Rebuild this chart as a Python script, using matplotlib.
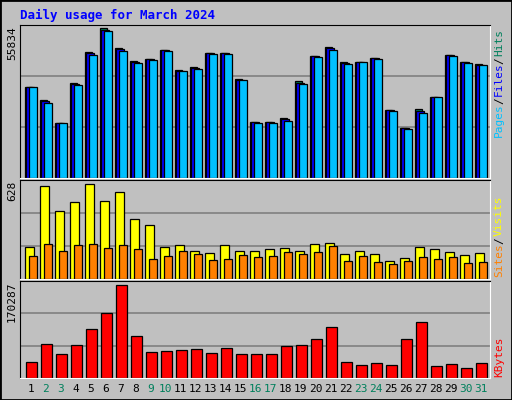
import matplotlib.pyplot as plt
import numpy as np

days = np.arange(1, 32)
hits = [33100, 28400, 20130, 34580, 46070, 54590, 47550, 42730, 43470, 46810, 39400,
        40510, 45700, 45700, 36060, 20500, 20500, 21980, 35320, 44580, 47920, 42360,
        42360, 43840, 24950, 18280, 25320, 29390, 44950, 42360, 41620]
files = [33100, 28000, 20130, 34200, 45500, 54000, 47000, 42400, 43300, 46600, 39200,
         40100, 45500, 45500, 35900, 20300, 20300, 21400, 34800, 44400, 47400, 42000,
         42360, 43700, 24800, 18100, 24600, 29390, 44800, 42200, 41400]
pages = [33100, 27540, 20130, 33840, 44950, 53480, 46440, 41990, 43100, 46440, 39030,
         39770, 45320, 45320, 35690, 20130, 20130, 20870, 34210, 44210, 46810, 41620,
         42360, 43470, 24580, 17910, 23840, 29390, 44580, 41990, 41250]
visits = [205, 590, 429, 487, 602, 493, 551, 378, 340, 205, 218, 179, 167, 218, 179, 179,
          192, 199, 179, 224, 231, 160, 179, 160, 115, 135, 205, 192, 173, 154, 167]
sites = [147, 224, 179, 218, 224, 199, 218, 192, 128, 147, 179, 160, 122, 128, 154, 141,
         147, 173, 160, 173, 211, 115, 147, 109, 96, 115, 141, 128, 141, 103, 109]
kbytes = [27520, 60210, 41280, 58490, 86010, 113530, 163420, 73970, 46450, 48170, 49890,
          51610, 44730, 53330, 43010, 41280, 41280, 56770, 58490, 68810, 89450, 27520,
          22360, 25800, 22360, 68810, 98050, 20640, 24080, 17200, 25800]
weekend = [2, 3, 9, 10, 16, 17, 23, 24, 30, 31]
max_hits, max_visits, max_kb = 55834, 628, 170287

W, H = 512, 400
fig = plt.figure(figsize=(W / 100, H / 100), dpi=100, facecolor='#c0c0c0')
mono = 'DejaVu Sans Mono'


def panel(y0, y1, ymax):
    ax = fig.add_axes([20 / W, 1 - y1 / H, 470 / W, (y1 - y0) / H], facecolor='#c0c0c0')
    ax.set_xlim(0.28, 31.61)
    ax.set_ylim(0, ymax)
    for f in (1 / 3, 2 / 3):
        ax.axhline(ymax * f, color='#808080', lw=1.2, zorder=0)
    ax.set_xticks([])
    ax.set_yticks([])
    for s in ('left', 'top'):
        ax.spines[s].set_color('black')
    for s in ('right', 'bottom'):
        ax.spines[s].set_color('white')
    return ax


kw = dict(align='edge', edgecolor='black', linewidth=0.9)
ax1 = panel(25, 178, max_hits)
ax1.bar(days - 0.39, hits, 0.5, color='#00805c', **kw)
ax1.bar(days - 0.30, files, 0.5, color='#0000ff', **kw)
ax1.bar(days - 0.12, pages, 0.52, color='#00c0ff', **kw)

ax2 = panel(180, 279, max_visits)
ax2.bar(days - 0.37, visits, 0.56, color='#ffff00', **kw)
ax2.bar(days - 0.10, sites, 0.49, color='#ff8000', **kw)

ax3 = panel(281, 378, max_kb)
ax3.bar(days - 0.30, kbytes, 0.69, color='#ff0000', **kw)

fig.text(20 / W, 1 - 15 / H, 'Daily usage for March 2024', color='#0000ff',
         family=mono, weight='bold', fontsize=9, va='center')
for y, t in ((26, '55834'), (181, '628'), (282, '170287')):
    fig.text(12 / W, 1 - y / H, t, rotation=90, family=mono, fontsize=8,
             ha='center', va='top')

# coloured legend text on the right, bottom to top
def legend(parts, ybot):
    y = ybot
    for t, c in parts:
        txt = fig.text(499 / W, 1 - y / H, t, rotation=90, family=mono, fontsize=8,
                       color=c, ha='center', va='bottom')
        y -= len(t) * 6.1 + 2


legend([('Pages', '#00c0ff'), ('/', 'black'), ('Files', '#0000ff'), ('/', 'black'),
        ('Hits', '#00805c')], 137)
legend([('Sites', '#ff8000'), ('/', 'black'), ('Visits', '#ffff00')], 277)
legend([('KBytes', '#ff0000')], 377)

for d in days:
    x = 20 + (30.8 - 20) + (d - 1) * 15
    fig.text(x / W, 1 - 389 / H, str(d), family=mono, fontsize=8, ha='center', va='center',
             color='#00805c' if d in weekend else 'black')

fig.patches.append(plt.Rectangle((0, 0), 1, 1, transform=fig.transFigure, fill=False,
                                 edgecolor='black', linewidth=2))
fig.savefig('out.png', dpi=100, facecolor=fig.get_facecolor())
